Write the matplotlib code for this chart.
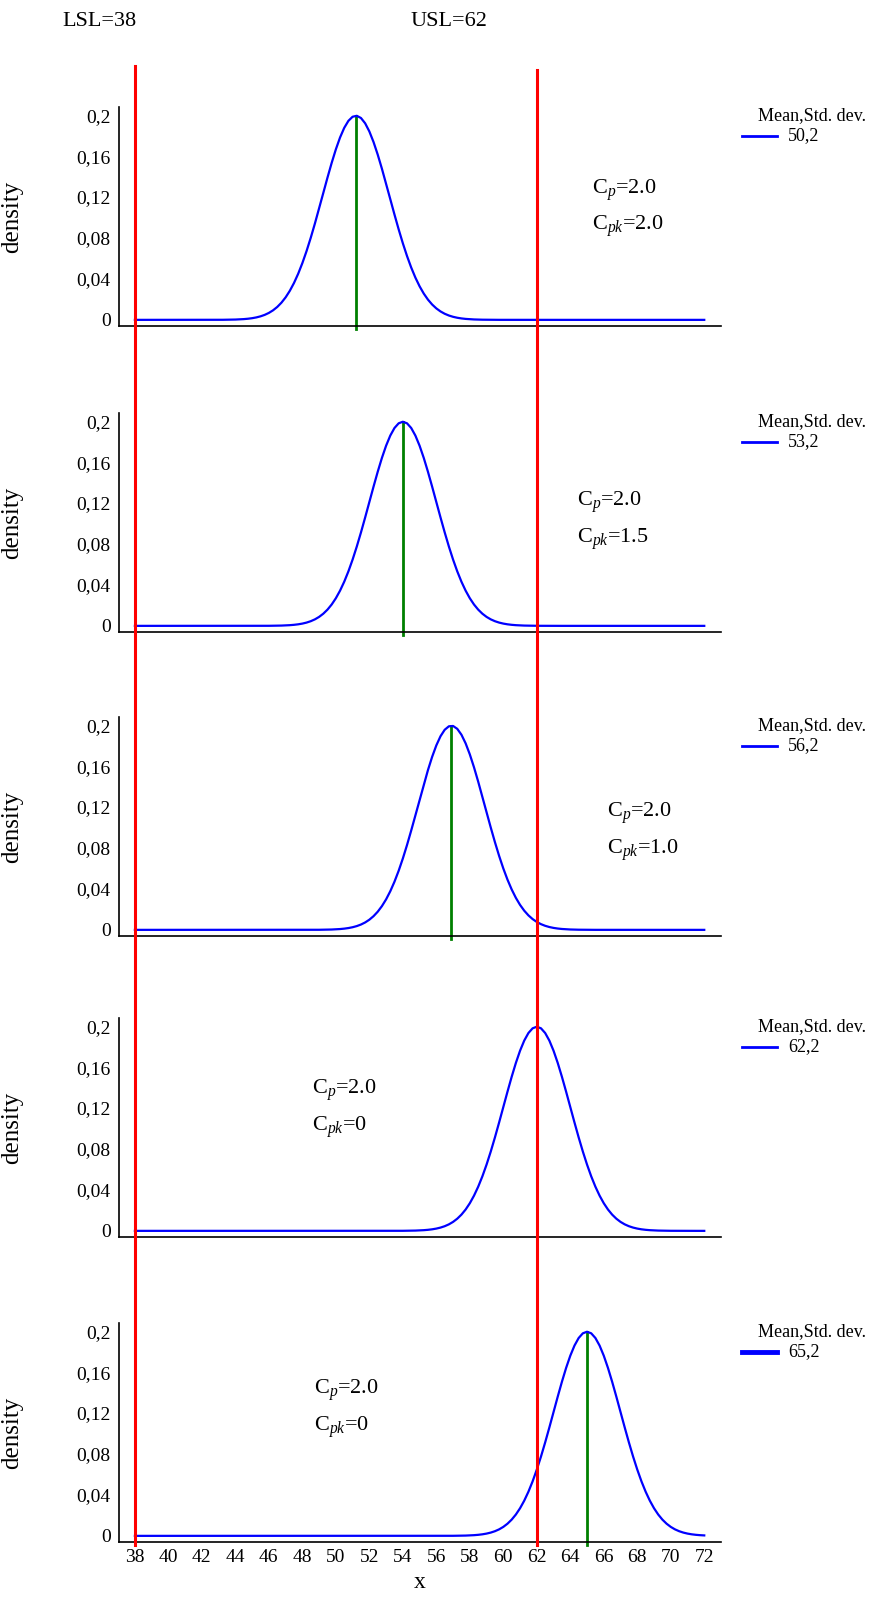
import numpy as np
import matplotlib
matplotlib.use("Agg")
import matplotlib.pyplot as plt
from matplotlib.lines import Line2D

plt.rcParams['font.family'] = ['Liberation Serif', 'DejaVu Serif']
plt.rcParams['mathtext.fontset'] = 'custom'
plt.rcParams['mathtext.rm'] = 'Liberation Serif'
plt.rcParams['mathtext.it'] = 'Liberation Serif:italic'

# data
means = [50, 53, 56, 62, 65]              # legend values
sds = [2, 2, 2, 2, 2]
peak_x = [51.2, 54.0, 56.9, 62.0, 65.0]   # where the curves are drawn in the picture
cp_vals = ["2.0", "2.0", "2.0", "2.0", "2.0"]
cpk_vals = ["2.0", "1.5", "1.0", "0", "0"]
cp_pos = [(65.3, 0.127), (64.4, 0.121), (66.2, 0.114), (48.6, 0.137), (48.7, 0.142)]
LSL, USL = 38, 62
yticks = [0, 0.04, 0.08, 0.12, 0.16, 0.2]
ytick_labels = ["0", "0,04", "0,08", "0,12", "0,16", "0,2"]
xticks = list(range(38, 73, 2))

W, H = 871, 1599
fig = plt.figure(figsize=(W / 100, H / 100), dpi=100)

x0, x1 = 37.05, 73.0
y0, y1 = -0.006, 0.208
left_px, right_px = 119, 721
panel_h = 219
bottoms_px = [326, 632, 936, 1237, 1542]

x = np.arange(38, 72.01, 0.25)
for i, b in enumerate(bottoms_px):
    ax = fig.add_axes([left_px / W, 1 - b / H, (right_px - left_px) / W, panel_h / H])
    mu, sd = peak_x[i], sds[i]
    y = np.exp(-0.5 * ((x - mu) / sd) ** 2) / (sd * np.sqrt(2 * np.pi))
    ax.plot(x, y, color="#0000ff", lw=1.6, zorder=3)
    ax.plot([mu, mu], [-0.009, y.max()], color="#008000", lw=2, zorder=2, clip_on=False)
    ax.set_xlim(x0, x1)
    ax.set_ylim(y0, y1)
    for s in ["top", "right"]:
        ax.spines[s].set_visible(False)
    ax.spines["left"].set_linewidth(1.2)
    ax.spines["bottom"].set_linewidth(1.2)
    ax.set_yticks(yticks)
    ax.set_yticklabels(ytick_labels, fontsize=14)
    ax.tick_params(axis="y", length=0, pad=6)
    ax.set_xticks(xticks)
    if i == len(bottoms_px) - 1:
        ax.set_xticklabels([str(t) for t in xticks], fontsize=14)
        ax.tick_params(axis="x", length=0, pad=5)
        ax.set_xlabel("x", fontsize=17, labelpad=4)
    else:
        ax.set_xticklabels([])
        ax.tick_params(axis="x", length=0)
    ax.set_ylabel("density", fontsize=18)
    ax.yaxis.set_label_coords(-(119 - 23) / (right_px - left_px), 0.5)

    tx, ty = cp_pos[i]
    ax.text(tx, ty, r"C$_{p}$=" + cp_vals[i], fontsize=16, va="center", ha="left")
    ax.text(tx, ty - 0.036, r"C$_{pk}$=" + cpk_vals[i], fontsize=16, va="center", ha="left")

    # legend drawn by hand
    top = b - panel_h
    ty_title = top + 9
    ty_entry = top + 29
    fig.text(758 / W, 1 - ty_title / H, "Mean,Std. dev.", fontsize=13, va="center", ha="left")
    fig.add_artist(Line2D([742 / W, 777 / W], [1 - ty_entry / H] * 2, color="#0000ff",
                          lw=3.5 if i == 4 else 2, transform=fig.transFigure))
    fig.text(788 / W, 1 - ty_entry / H, f"{means[i]},{sds[i]}", fontsize=13, va="center", ha="left")

# spec limit lines across all panels
def xfig(v):
    return (left_px + (v - x0) / (x1 - x0) * (right_px - left_px)) / W

fig.add_artist(Line2D([xfig(LSL)] * 2, [1 - 66 / H, 1 - 1545 / H], color="#ff0000", lw=2.2, zorder=10))
fig.add_artist(Line2D([xfig(USL)] * 2, [1 - 70 / H, 1 - 1545 / H], color="#ff0000", lw=2.2, zorder=10))
fig.text(99.5 / W, 1 - 22 / H, f"LSL={LSL}", fontsize=16, ha="center", va="center")
fig.text(449 / W, 1 - 22 / H, f"USL={USL}", fontsize=16, ha="center", va="center")

fig.savefig("out.png", dpi=100)
